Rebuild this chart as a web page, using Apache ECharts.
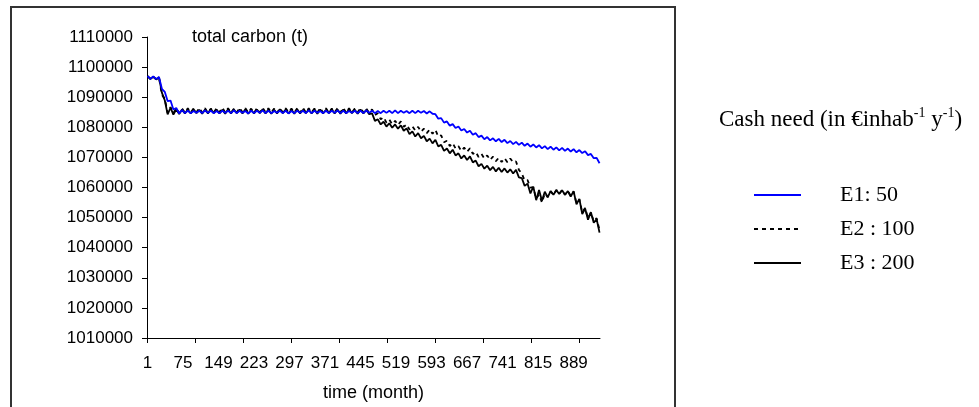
<!DOCTYPE html>
<html>
<head>
<meta charset="utf-8">
<script src="https://cdn.jsdelivr.net/npm/echarts@6/dist/echarts.min.js"></script>
<style>
html,body{margin:0;padding:0;background:#fff;}
#chart{width:979px;height:407px;}
</style>
</head>
<body>
<div id="chart"></div>
<script>
// sampled every 6 months, starting at month 1 (1, 7, 13, ... 943)
const sampleStart = 1;
const sampleStep = 6;

const xLabelValues = [1, 75, 149, 223, 297, 371, 445, 519, 593, 667, 741, 815, 889];
const xTickValues = [0, 100, 200, 300, 400, 500, 600, 700, 800, 900];

const seriesNames = ['E1: 50', 'E2 : 100', 'E3 : 200'];

const e1 = [
1097000,1096100,1096900,1096000,1096700,1092800,1091800,1088700,1088900,1085900,1086400,1084600,1085700,1084700,
1085500,1084700,1085400,1084800,1085500,1084700,1085600,1084800,1085500,1084700,1085400,1084700,1085500,1084800,
1085500,1084700,1085600,1084700,1085500,1084800,1085400,1084600,1085500,1084700,1085500,1084800,1085600,1084700,
1085500,1084700,1085400,1084800,1085500,1084700,1085500,1084600,1085400,1084700,1085500,1084800,1085500,1084700,
1085600,1084700,1085500,1084800,1085400,1084700,1085500,1084700,1085500,1084800,1085600,1084700,1085500,1084700,
1085400,1084800,1085500,1084700,1085500,1084700,1085600,1084800,1085500,1084700,1085400,1084700,1085500,1084800,
1085500,1084700,1085600,1084700,1085500,1084800,1085400,1084700,1085500,1084700,1085500,1084800,1085400,1084600,
1085300,1084500,
1084350,1082850,1083050,1081550,1081950,1080550,1081050,1079750,1080250,1078950,1079450,1078250,1078850,1077550,
1078050,1076750,1077250,1076050,1076750,1075650,1076350,1075350,1076150,1075100,1075850,1074750,1075450,1074400,
1075150,1074150,1074900,1073850,1074600,1073550,1074300,1073300,1074050,1073000,1073750,1072750,1073550,1072550,
1073350,1072350,1073150,1072150,1072950,1071950,1072750,1071700,1072450,1071450,1072050,1070750,1071150,1069750,
1069850,1068050
];

const e2 = [
1097000,1096200,1096800,1096000,1096500,1090800,1089500,1084800,1086700,1084700,1086300,1084800,1086200,1084900,
1086300,1084900,1086200,1085000,1086400,1084900,1086300,1084800,1086200,1084900,1086300,1085000,1086500,1084900,
1086300,1084800,1086200,1084900,1086400,1085000,1086300,1084900,1086200,1084800,1086300,1084900,1086500,1085000,
1086300,1084900,1086200,1084800,1086400,1084900,1086300,1085000,1086200,1084900,1086300,1084800,1086500,1084900,
1086300,1085000,1086200,1084900,1086400,1084800,1086300,1084900,1086200,1085000,1086300,1084900,1086500,1084800,
1086300,1084900,1086200,1085000,1086400,1084900,1086200,1084800,
1085950,1084050,1084650,1082650,1083350,1081550,1082550,1081050,1082150,1080750,1081950,1080150,1080950,1079250,
1080350,1078950,1080150,1078550,1079550,1078050,1079250,1077850,1079150,1076950,1077350,1075050,1075550,1073750,
1074750,1072950,1073750,1072150,1073250,1071850,1073050,1071150,1071850,1070150,1071150,1069650,1070650,1069150,
1070250,1068750,1069850,1068450,1069750,1068350,1069650,1068350,1068650,1065850,1064650,1062350,1062450,1060000,
1060000,1056300,1057700,1055000,1058000,1056900,1058700,1057600,1059200,1057900,1059200,1057600,1058800,1057200,
1058600,1054800,1056000,1051800,1053200,1049800,1051600,1048800,1049800,1045800
];

const e3 = [
1097000,1096000,1096800,1095900,1096600,1091500,1089000,1084300,1086500,1084200,1086000,1084400,1085900,1084600,
1085900,1084600,1086000,1084700,1085800,1084500,1085900,1084600,1086100,1084700,1085900,1084600,1085800,1084500,
1086000,1084600,1085900,1084700,1085900,1084600,1086000,1084500,1085800,1084600,1085900,1084700,1086000,1084600,
1085900,1084500,1085800,1084600,1086000,1084700,1085900,1084600,1085900,1084500,1086000,1084600,1085800,1084700,
1085900,1084600,1086000,1084500,1085900,1084600,1085800,1084700,1086000,1084600,1085900,1084500,1085900,1084600,
1086000,1084700,1085800,1084500,1085900,1084600,1085800,
1084350,1084650,1082150,1082650,1080950,1081850,1080250,1081350,1079850,1080950,1079550,1080650,1078850,1079650,
1077750,1078650,1076950,1078050,1076350,1077150,1075350,1076250,1074650,1075850,1073650,1074150,1072150,1072950,
1071350,1072550,1070650,1071350,1069650,1070650,1069150,1070350,1068350,1068950,1067050,1067850,1066250,1067250,
1065750,1066850,1065350,1066550,1065150,1066350,1064950,1066050,1064650,1065850,1063350,1063150,1060550,1061300,
1058000,1060300,1055800,1059200,1055600,1058600,1056700,1058800,1057600,1059100,1057900,1059100,1057600,1058800,
1057000,1058800,1054400,1056200,1051200,1053000,1049300,1051800,1048300,1049500,1045000
];

const months = e1.map((_, i) => sampleStart + i * sampleStep);
const pairs = arr => arr.map((v, i) => [months[i], v]);

const sans = "'Liberation Sans', Arial, sans-serif";
const serif = "'Liberation Serif', 'Times New Roman', serif";

const chart = echarts.init(document.getElementById('chart'), null, {renderer: 'canvas'});
chart.setOption({
  animation: false,
  backgroundColor: '#fff',
  graphic: [{
    type: 'rect', silent: true, z: 0,
    shape: {x: 11, y: 7, width: 664, height: 430},
    style: {fill: 'none', stroke: '#333', lineWidth: 2}
  }],
  title: [{
    text: 'total carbon (t)',
    left: 192, top: 28, padding: 0,
    textStyle: {fontFamily: sans, fontSize: 18, fontWeight: 'normal', color: '#000'}
  }, {
    text: 'Cash need (in €inhab{sup|-1} y{sup|-1})',
    left: 719, top: 106, padding: 0,
    textStyle: {
      fontFamily: serif, fontSize: 23, fontWeight: 'normal', color: '#000', lineHeight: 27,
      rich: {sup: {fontFamily: serif, fontSize: 14, color: '#000', verticalAlign: 'top', lineHeight: 24}}
    }
  }],
  legend: {
    orient: 'vertical',
    left: 748, top: 179,
    data: seriesNames,
    itemWidth: 47, itemHeight: 12, itemGap: 12,
    itemStyle: {opacity: 0},
    textStyle: {fontFamily: serif, fontSize: 22, color: '#000', padding: [0, 0, 0, 34]}
  },
  grid: {left: 147, right: 379, top: 37, bottom: 69, containLabel: false},
  xAxis: {
    type: 'value', min: 0, max: 944,
    name: 'time (month)', nameLocation: 'middle', nameGap: 46,
    nameTextStyle: {fontFamily: sans, fontSize: 18, color: '#000'},
    axisLine: {show: true, lineStyle: {color: '#000', width: 1}},
    axisTick: {show: true, length: 5, customValues: xTickValues, lineStyle: {color: '#000'}},
    axisLabel: {customValues: xLabelValues, margin: 17, fontFamily: sans, fontSize: 17, color: '#000'},
    splitLine: {show: false}
  },
  yAxis: {
    type: 'value', min: 1010000, max: 1110000, interval: 10000,
    axisLine: {show: true, lineStyle: {color: '#000', width: 1}},
    axisTick: {show: true, length: 5, lineStyle: {color: '#000'}},
    axisLabel: {margin: 14, fontFamily: sans, fontSize: 17, color: '#000', formatter: v => String(v)},
    splitLine: {show: false}
  },
  series: [{
    name: seriesNames[2], type: 'line', data: pairs(e3), symbol: 'none',
    lineStyle: {color: '#000', width: 1.8}, itemStyle: {color: '#000'}
  }, {
    name: seriesNames[1], type: 'line', data: pairs(e2), symbol: 'none',
    lineStyle: {color: '#000', width: 1.8, type: [4, 4]}, itemStyle: {color: '#000'}
  }, {
    name: seriesNames[0], type: 'line', data: pairs(e1), symbol: 'none',
    lineStyle: {color: '#0000ff', width: 1.8}, itemStyle: {color: '#0000ff'}
  }]
});
</script>
</body>
</html>
